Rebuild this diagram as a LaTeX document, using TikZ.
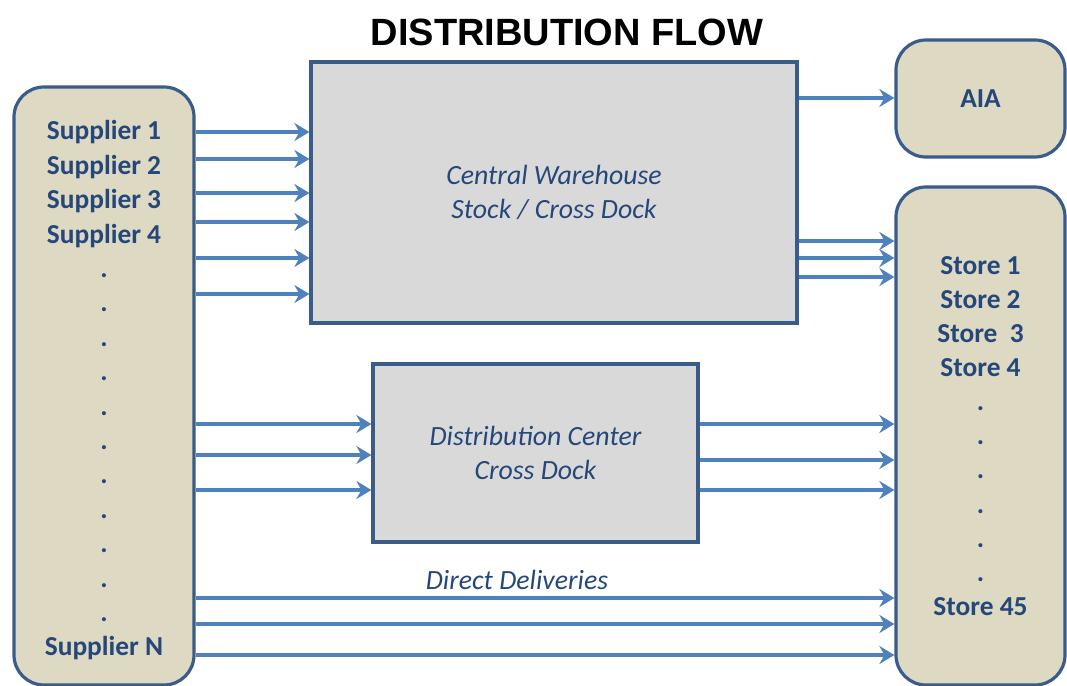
\documentclass[tikz,border=0pt]{standalone}
\usepackage{fontspec}
\setmainfont{Carlito}
\newfontfamily\headfont{Liberation Sans}
\usetikzlibrary{arrows.meta}

\definecolor{boxline}{HTML}{3A5C8A}
\definecolor{tanfill}{HTML}{DDD9C3}
\definecolor{hubfill}{HTML}{D9D9D9}
\definecolor{flowblue}{HTML}{4F81BD}
\definecolor{labelblue}{HTML}{25477A}

\begin{document}
\begin{tikzpicture}[x=0.5pt,y=-0.5pt,
  party/.style={draw=boxline,line width=1.6pt,fill=tanfill,rounded corners=15pt,
    align=center,text=labelblue,inner sep=0pt},
  hub/.style={draw=boxline,line width=1.6pt,fill=hubfill,align=center,
    text=labelblue,font=\itshape\fontsize{13.9}{17}\selectfont},
  flow/.style={draw=flowblue,line width=2.4pt,-{Stealth[length=7.5pt,width=9pt,inset=2.5pt]}}]
  \useasboundingbox (0,0) rectangle (1067,686);

  \node[font=\headfont\bfseries\fontsize{19}{23}\selectfont] (title) at (567,32) {DISTRIBUTION FLOW};

  % suppliers and stores
  \node[party,minimum width=90pt,minimum height=299pt,
        font=\bfseries\fontsize{13.7}{17.2}\selectfont] (sup) at (104,386)
    {\rule{0pt}{14pt}Supplier 1\\Supplier 2\\Supplier 3\\Supplier 4\\.\\.\\.\\.\\.\\.\\.\\.\\.\\.\\.\\Supplier N};
  \node[party,minimum width=84.5pt,minimum height=58.5pt,
        font=\bfseries\fontsize{13.7}{17}\selectfont] (aia) at (980.5,98.5) {AIA};
  \node[party,minimum width=84.5pt,minimum height=249pt,
        font=\bfseries\fontsize{13.7}{17.05}\selectfont] (st) at (980.5,436)
    {Store 1\\Store 2\\Store\ \ 3\\Store 4\\.\\.\\.\\.\\.\\.\\Store 45};

  % warehouse and distribution center
  \node[hub,minimum width=243pt,minimum height=130.5pt] (wh) at (554,192.5)
    {Central Warehouse\\Stock / Cross Dock};
  \node[hub,minimum width=162.5pt,minimum height=89pt] (dc) at (535.5,453)
    {Distribution Center\\Cross Dock};

  % flows
  \foreach \y in {132,159,193,222,258,294}
    \draw[flow] (sup.east |- 0,\y) -- (wh.west |- 0,\y);
  \draw[flow] (wh.east |- 0,98) -- (aia.west |- 0,98);
  \foreach \y in {241,258,277}
    \draw[flow] (wh.east |- 0,\y) -- (st.west |- 0,\y);
  \foreach \y in {424,455,490}
    \draw[flow] (sup.east |- 0,\y) -- (dc.west |- 0,\y);
  \foreach \y in {424,460,490}
    \draw[flow] (dc.east |- 0,\y) -- (st.west |- 0,\y);
  \foreach \y in {598,624,655}
    \draw[flow] (sup.east |- 0,\y) -- (st.west |- 0,\y);

  \node[text=labelblue,font=\itshape\fontsize{13.9}{17}\selectfont] (direct) at (517,580) {Direct Deliveries};
\end{tikzpicture}
\end{document}
